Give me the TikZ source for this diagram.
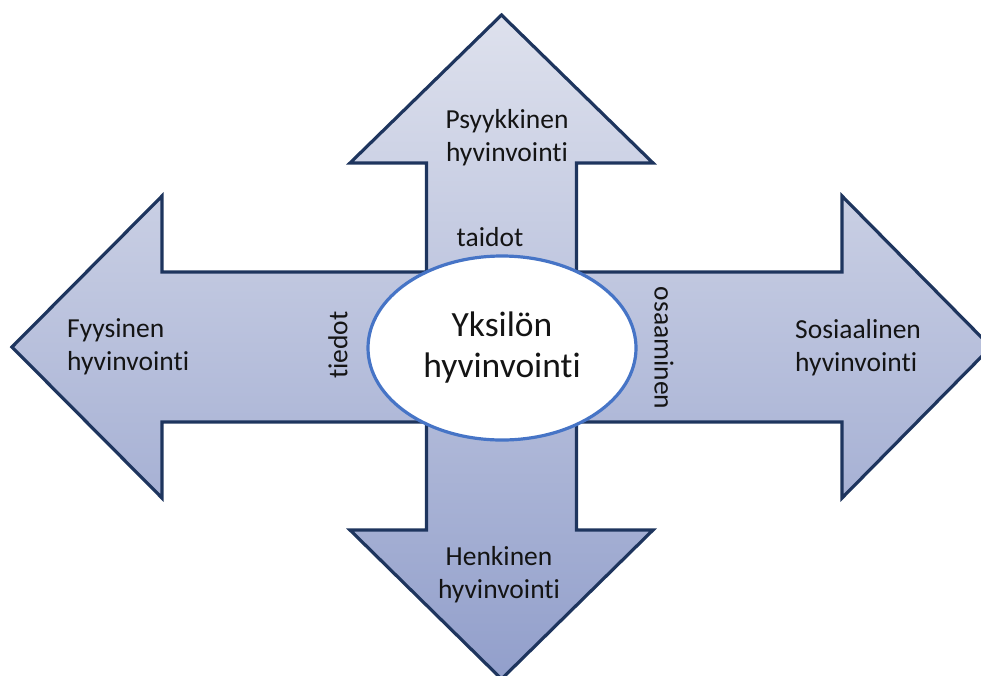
\documentclass[tikz,border=0pt]{standalone}
\usepackage{fontspec}
\setmainfont{Carlito}[Ligatures={NoCommon,NoRequired,NoContextual}]
\usetikzlibrary{shapes.geometric}
\definecolor{crosstop}{HTML}{DEE1ED}
\definecolor{crossbot}{HTML}{929FCB}
\definecolor{crossline}{HTML}{1E355E}
\definecolor{ringblue}{HTML}{4674C6}
\definecolor{txt}{HTML}{141414}
\tikzset{
  label/.style={font=\fontsize{27.5}{33}\selectfont, text=txt, inner sep=0pt, align=center},
  sidelabel/.style={label, align=left},
  hub/.style={ellipse, draw=ringblue, line width=3.2pt, fill=white,
    minimum width=268pt, minimum height=184pt, inner sep=0pt,
    font=\fontsize{35.5}{41}\selectfont, text=txt, align=center}
}
\begin{document}
\begin{tikzpicture}[x=1pt,y=-1pt]
\useasboundingbox (0,0) rectangle (981,675);
% four-headed arrow
\path[draw=crossline, line width=3.2pt, line join=miter,
      top color=crosstop, bottom color=crossbot]
  (501.5,15) -- (653,163) -- (576.5,163) -- (576.5,272) -- (842,272) -- (842,196)
  -- (991,347) -- (842,498) -- (842,422) -- (576.5,422) -- (576.5,530) -- (653,530)
  -- (501.5,679) -- (350,530) -- (426.5,530) -- (426.5,422) -- (162,422) -- (162,498)
  -- (12,347) -- (162,196) -- (162,272) -- (426.5,272) -- (426.5,163) -- (350,163)
  -- cycle;
% centre
\node[hub] (hub) at (502,348) {Yksilön\\hyvinvointi};
% arrow labels
\node[label] (psy) at (507,138) {Psyykkinen\\hyvinvointi};
\node[label] (hen) at (499,575) {Henkinen\\hyvinvointi};
\node[sidelabel, anchor=west] (fyy) at (67,347) {Fyysinen\\hyvinvointi};
\node[sidelabel, anchor=west] (sos) at (795,348) {Sosiaalinen\\hyvinvointi};
% shaft labels
\node[label] (taidot) at (490,237) {taidot};
\node[label, rotate=90] (tiedot) at (338,345) {tiedot};
\node[label, rotate=-90] (osaa) at (664,348) {osaaminen};
\end{tikzpicture}
\end{document}
